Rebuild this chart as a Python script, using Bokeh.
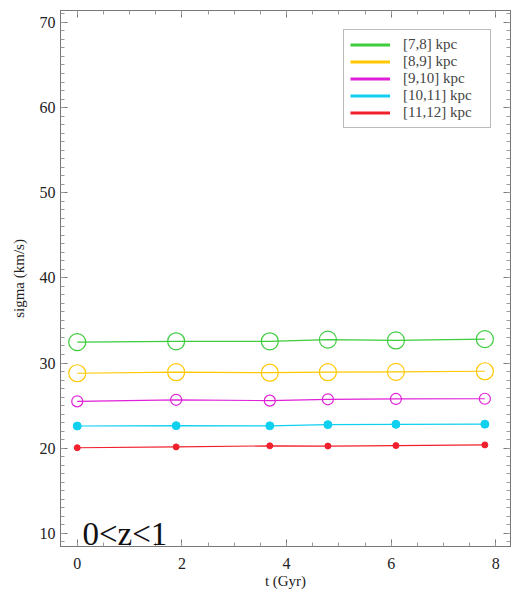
from bokeh.plotting import figure
from bokeh.models import Range1d, LinearAxis, Legend, LegendItem, Label, FixedTicker
from bokeh.embed import file_html
from bokeh.resources import INLINE

t = [0.0, 1.89, 3.68, 4.79, 6.09, 7.79]
s_7_8 = [32.45, 32.55, 32.55, 32.75, 32.65, 32.8]
s_8_9 = [28.8, 28.92, 28.86, 28.92, 28.96, 29.03]
s_9_10 = [25.5, 25.68, 25.58, 25.74, 25.78, 25.8]
s_10_11 = [22.6, 22.64, 22.62, 22.76, 22.8, 22.82]
s_11_12 = [20.05, 20.15, 20.27, 20.25, 20.3, 20.38]
labels = ["[7,8] kpc", "[8,9] kpc", "[9,10] kpc", "[10,11] kpc", "[11,12] kpc"]
colors = ["#3ccc3c", "#ffc800", "#e020d8", "#10d0f0", "#f0202c"]
series = [s_7_8, s_8_9, s_9_10, s_10_11, s_11_12]
marker_size = [17, 17, 11, 8, 6]
filled = [False, False, False, True, True]
x_ticks = [0, 2, 4, 6, 8]
y_ticks = [10, 20, 30, 40, 50, 60, 70]

FONT = "Times"
p = figure(width=514, height=591, output_backend="svg", toolbar_location=None,
           x_range=Range1d(-0.32, 8.28), y_range=Range1d(8.45, 71.4),
           min_border_left=60, min_border_right=4, min_border_top=10, min_border_bottom=45)
p.grid.visible = False
p.outline_line_color = "#555555"
p.outline_line_width = 1

for ys, c, ms, f in zip(series, colors, marker_size, filled):
    p.line(t, ys, line_color=c, line_width=1.2)
    if f:
        p.scatter(t, ys, size=ms, fill_color=c, line_color=c, marker="circle")
    else:
        p.scatter(t, ys, size=ms, fill_color=None, line_color=c, line_width=1.2, marker="circle")

nan = float("nan")
items = []
for lab, c in zip(labels, colors):
    r = p.line(x=[nan], y=[nan], line_color=c, line_width=3)
    items.append(LegendItem(label=lab, renderers=[r]))
legend = Legend(items=items, location="top_right", label_text_font=FONT,
                label_text_font_size="15px", label_height=17, glyph_height=17,
                glyph_width=40, label_width=81, spacing=0, padding=6, margin=19,
                label_standoff=13,
                border_line_color="#777777", border_line_width=1,
                background_fill_alpha=1)
p.add_layout(legend, "center")

def style(ax, ticks, show_labels=True):
    ax.major_tick_in = 7
    ax.major_tick_out = 0
    ax.minor_tick_in = 4
    ax.minor_tick_out = 0
    ax.axis_line_color = "#777777"
    ax.major_tick_line_color = "#777777"
    ax.minor_tick_line_color = "#999999"
    ax.major_label_text_font = FONT
    ax.major_label_text_font_size = "16px"
    ax.major_label_text_color = "#222222"
    ax.axis_label_text_font = FONT
    ax.axis_label_text_font_size = "15px"
    ax.axis_label_text_font_style = "normal"
    ax.axis_label_text_color = "#222222"
    if not show_labels:
        ax.major_label_overrides = {v: "" for v in ticks}
        ax.major_label_standoff = 0

xt = FixedTicker(ticks=x_ticks, minor_ticks=[x * 0.5 for x in range(0, 17)])
yt = FixedTicker(ticks=y_ticks, minor_ticks=list(range(9, 72)))

p.xaxis.ticker = xt
p.yaxis.ticker = yt
p.xaxis.axis_label = "t (Gyr)"
p.yaxis.axis_label = "sigma (km/s)"
p.xaxis.axis_label_standoff = 1
p.yaxis.axis_label_standoff = 10
p.xaxis.major_label_standoff = 11
p.yaxis.major_label_standoff = 5
style(p.xaxis[0], x_ticks)
style(p.yaxis[0], y_ticks)

top = LinearAxis(ticker=xt)
right = LinearAxis(ticker=yt)
style(top, x_ticks, False)
style(right, y_ticks, False)
p.add_layout(top, "above")
p.add_layout(right, "right")

p.add_layout(Label(x=22, y=13, x_units="screen", y_units="screen", text="0<z<1",
                   text_baseline="alphabetic",
                   text_font=FONT, text_font_size="33px", text_color="#111111"))

open("out.html", "w").write(file_html(p, INLINE))
